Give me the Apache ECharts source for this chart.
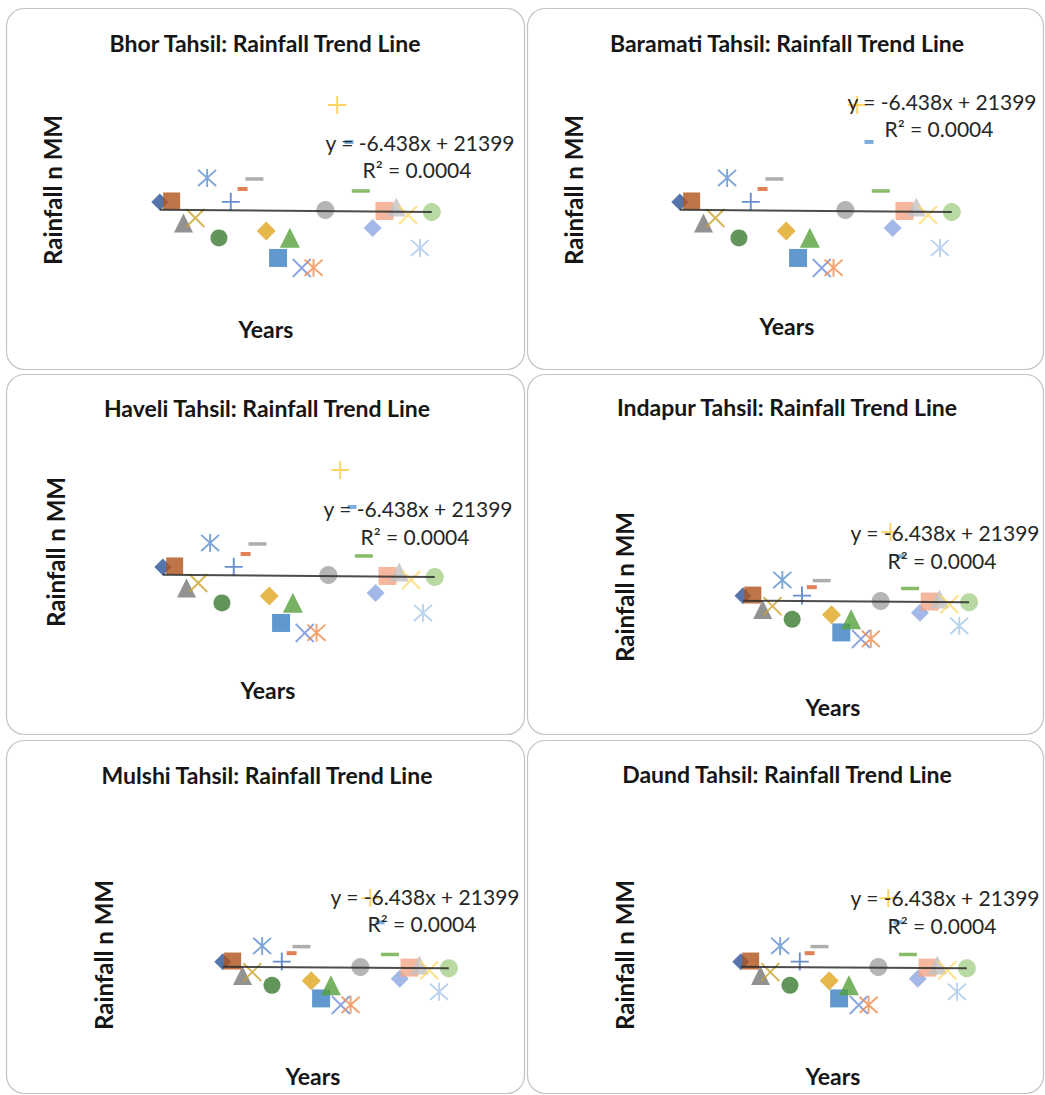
<!DOCTYPE html>
<html>
<head>
<meta charset="utf-8">
<script src="https://cdn.jsdelivr.net/npm/echarts@6/dist/echarts.min.js"></script>
<style>
  html, body { margin: 0; padding: 0; background: #ffffff; }
  #chart { width: 1045px; height: 1095px; }
</style>
</head>
<body>
<div id="chart"></div>
<script>
// ---------------- data ----------------
const tahsils = ['Bhor', 'Baramati', 'Haveli', 'Indapur', 'Mulshi', 'Daund'];
const years = [1995, 1996, 1997, 1998, 1999, 2000, 2001, 2002, 2003, 2004, 2005, 2006,
               2007, 2008, 2009, 2010, 2011, 2012, 2013, 2014, 2015, 2016, 2017, 2018];
const rainfall = [9024, 9085, 7743, 8048, 10488, 6828, 9031, 9817, 10427, 7255, 5608, 6835,
                  4998, 5012, 8536, 14941, 12684, 9695, 7438, 8475, 8719, 8231, 6218, 8414];
const trendSlope = -6.438;
const trendIntercept = 21399;
const rSquared = 0.0004;
const yRange = [2000, 16000];
const xRange = [1994, 2019];

// ---------------- styles ----------------
const P_X = 'path://M0,0L10,10M10,0L0,10';
const P_PLUS = 'path://M5,0L5,10M0,5L10,5';
const P_STAR = 'path://M5,0L5,10M0.5,0.5L9.5,9.5M9.5,0.5L0.5,9.5';
const markers = [
  { s: 'diamond', c: '#2b5296', z: 17 },
  { s: 'rect', c: '#b0521a', z: 17 },
  { s: 'triangle', c: '#777777', z: 19 },
  { s: P_X, c: '#c9a227', z: 18, line: true },
  { s: P_STAR, c: '#5b8fd0', z: 18, line: true },
  { s: 'circle', c: '#3a7a2f', z: 17 },
  { s: P_PLUS, c: '#4472c4', z: 18, line: true },
  { s: 'rect', c: '#d9622a', z: [10, 4] },
  { s: 'rect', c: '#999999', z: [18, 3.5] },
  { s: 'diamond', c: '#e0a61e', z: 19 },
  { s: 'rect', c: '#3a7ec1', z: 18 },
  { s: 'triangle', c: '#55a03c', z: 20 },
  { s: P_X, c: '#6f8fd8', z: 18, line: true },
  { s: P_STAR, c: '#f08a4b', z: 18, line: true },
  { s: 'circle', c: '#a3a3a3', z: 18 },
  { s: P_PLUS, c: '#ffc83d', z: 18, line: true },
  { s: 'rect', c: '#5b9bd5', z: [9, 4] },
  { s: 'rect', c: '#6aab44', z: [18, 3.5] },
  { s: 'diamond', c: '#8ca6e0', z: 18 },
  { s: 'rect', c: '#f3a585', z: 18 },
  { s: 'triangle', c: '#c0c0c0', z: 19 },
  { s: P_X, c: '#ffd966', z: 18, line: true },
  { s: P_STAR, c: '#a8c8ea', z: 18, line: true },
  { s: 'circle', c: '#a6cf8b', z: 18 }
];

// panel layout: box, grid, and text anchors
const panels = [
  { box: [6, 8, 518, 361],   grid: [148, 87.6, 295.6, 229.5], title: [265, 43], ylab: [52, 190],  xlab: [266, 329],  eq: [420, 142, 169] },
  { box: [527, 8, 516, 361], grid: [668, 87.6, 295.6, 229.5], title: [787, 43], ylab: [573, 190], xlab: [787, 326],  eq: [942, 101, 128] },
  { box: [6, 374, 518, 360], grid: [151, 452.6, 295.6, 229.5], title: [267, 408], ylab: [55, 552], xlab: [268, 690], eq: [418, 508, 536] },
  { box: [527, 374, 516, 360], grid: [733.2, 520.7, 245.7, 150.5], title: [787, 407], ylab: [624, 587], xlab: [833, 707], eq: [945, 532, 560] },
  { box: [6, 740, 518, 353], grid: [213, 886.7, 245.7, 150.5], title: [267, 775], ylab: [103, 955], xlab: [313, 1076], eq: [425, 896, 923] },
  { box: [527, 740, 516, 353], grid: [731, 886.7, 245.7, 150.5], title: [787, 774], ylab: [624, 955], xlab: [833, 1076], eq: [945, 897, 925] }
];

const FONT = 'Lato, "Open Sans", sans-serif';
const grids = [], xAxes = [], yAxes = [], series = [], graphics = [];
const fmt = (v) => v.toString();

panels.forEach((p, k) => {
  grids.push({ left: p.grid[0], top: p.grid[1], width: p.grid[2], height: p.grid[3], containLabel: false });
  xAxes.push({ type: 'value', gridIndex: k, min: xRange[0], max: xRange[1], show: false });
  yAxes.push({ type: 'value', gridIndex: k, min: yRange[0], max: yRange[1], show: false });

  series.push({
    type: 'scatter', xAxisIndex: k, yAxisIndex: k, z: 3, silent: true,
    data: years.map((yr, i) => {
      const m = markers[i];
      return {
        value: [yr, rainfall[i]],
        symbol: m.s,
        symbolSize: m.z,
        itemStyle: m.line
          ? { color: 'rgba(0,0,0,0)', borderColor: m.c, borderWidth: 1.9 }
          : { color: m.c, borderWidth: 0 }
      };
    })
  });
  const x0 = years[0], x1 = years[years.length - 1];
  series.push({
    type: 'line', xAxisIndex: k, yAxisIndex: k, z: 4, silent: true, symbol: 'none',
    lineStyle: { color: 'rgba(45,45,45,0.85)', width: 2 },
    data: [[x0, trendSlope * x0 + trendIntercept], [x1, trendSlope * x1 + trendIntercept]]
  });

  graphics.push({
    type: 'rect', z: -10, silent: true,
    shape: { x: p.box[0] + 0.5, y: p.box[1] + 0.5, width: p.box[2], height: p.box[3], r: 18 },
    style: { fill: '#ffffff', stroke: '#c4c4c4', lineWidth: 1.2 }
  });
  graphics.push({
    type: 'text', z: 50, silent: true,
    style: { text: tahsils[k] + ' Tahsil: Rainfall Trend Line', x: p.title[0], y: p.title[1],
             align: 'center', verticalAlign: 'middle', font: 'bold 23px ' + FONT, fill: '#161616' }
  });
  graphics.push({
    type: 'text', z: 50, silent: true, x: p.ylab[0], y: p.ylab[1], rotation: Math.PI / 2,
    style: { text: 'Rainfall n MM', x: 0, y: 0, align: 'center', verticalAlign: 'middle',
             font: 'bold 24px ' + FONT, fill: '#161616' }
  });
  graphics.push({
    type: 'text', z: 50, silent: true,
    style: { text: 'Years', x: p.xlab[0], y: p.xlab[1], align: 'center', verticalAlign: 'middle',
             font: 'bold 23px ' + FONT, fill: '#161616' }
  });
  graphics.push({
    type: 'text', z: 50, silent: true,
    style: { text: 'y = ' + fmt(trendSlope) + 'x + ' + fmt(trendIntercept), x: p.eq[0], y: p.eq[1],
             align: 'center', verticalAlign: 'middle', font: '21px ' + FONT, fill: '#262626' }
  });
  graphics.push({
    type: 'text', z: 50, silent: true,
    style: { text: 'R\u00b2 = ' + rSquared.toFixed(4), x: p.eq[0] - 3, y: p.eq[2],
             align: 'center', verticalAlign: 'middle', font: '21px ' + FONT, fill: '#262626' }
  });
});

const chart = echarts.init(document.getElementById('chart'), null, { renderer: 'svg' });
chart.setOption({
  backgroundColor: '#ffffff',
  animation: false,
  grid: grids,
  xAxis: xAxes,
  yAxis: yAxes,
  series: series,
  graphic: { elements: graphics }
});
</script>
</body>
</html>
